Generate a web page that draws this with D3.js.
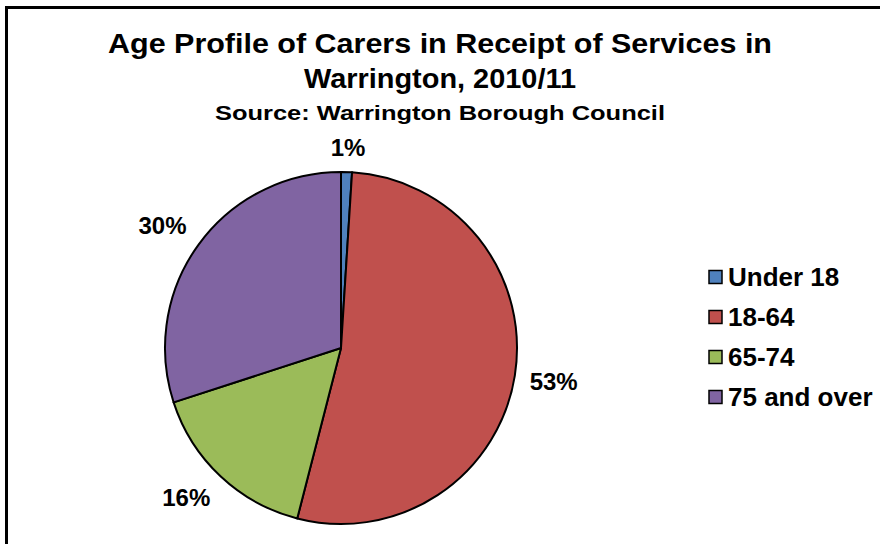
<!DOCTYPE html>
<html>
<head>
<meta charset="utf-8">
<script src="https://cdn.jsdelivr.net/npm/d3@7"></script>
<style>
  html, body { margin: 0; padding: 0; background: #fff; }
  text { font-family: "Liberation Sans", Arial, sans-serif; fill: #000; }
</style>
</head>
<body>
<div id="chart"></div>
<script>
// data
var categories = ['Under 18', '18-64', '65-74', '75 and over'];
var values = [1, 53, 16, 30];
var colors = ['#4F81BD', '#C0504D', '#9BBB59', '#8064A2'];
var titleLines = ['Age Profile of Carers in Receipt of Services in', 'Warrington, 2010/11'];
var subtitle = 'Source: Warrington Borough Council';

var attrs = {
  svgWidth: 880,
  svgHeight: 544,
  cx: 341,
  cy: 348,
  radius: 176,
  labelGap: 15,
  legendX: 709,
  legendY: 277,
  legendStep: 40
};

var svg = d3.select('#chart').append('svg')
  .attr('width', attrs.svgWidth)
  .attr('height', attrs.svgHeight);

// frame (top and left edges only visible)
svg.append('line').attr('x1', 5).attr('x2', 880).attr('y1', 7.5).attr('y2', 7.5)
  .attr('stroke', '#000').attr('stroke-width', 3);
svg.append('line').attr('x1', 6.5).attr('x2', 6.5).attr('y1', 6).attr('y2', 544)
  .attr('stroke', '#000').attr('stroke-width', 3);

// titles
var titleWidths = [664, 272];
var titleBase = [53, 88];
titleLines.forEach(function (t, i) {
  svg.append('text')
    .attr('x', 440).attr('y', titleBase[i])
    .attr('text-anchor', 'middle')
    .attr('font-size', 28).attr('font-weight', 'bold')
    .attr('textLength', titleWidths[i]).attr('lengthAdjust', 'spacingAndGlyphs')
    .text(t);
});
svg.append('text')
  .attr('x', 440).attr('y', 120)
  .attr('text-anchor', 'middle')
  .attr('font-size', 21).attr('font-weight', 'bold')
  .attr('textLength', 450).attr('lengthAdjust', 'spacingAndGlyphs')
  .text(subtitle);

// pie
var total = d3.sum(values);
var pie = d3.pie().sort(null).value(function (d) { return d; });
var arcs = pie(values);
var arc = d3.arc().innerRadius(0).outerRadius(attrs.radius);

var chart = svg.append('g')
  .attr('transform', 'translate(' + attrs.cx + ',' + attrs.cy + ')');

chart.selectAll('path.slice')
  .data(arcs)
  .enter().append('path')
  .attr('class', 'slice')
  .attr('d', arc)
  .attr('fill', function (d, i) { return colors[i]; })
  .attr('stroke', '#000')
  .attr('stroke-width', 2)
  .attr('stroke-linejoin', 'round');

// data labels: the box corner nearest the pie sits just outside the edge
var fmt = d3.format('.0%');
var labelH = 20;
var clamp = function (v) { return Math.max(-1, Math.min(1, v)); };
chart.selectAll('text.lbl')
  .data(arcs)
  .enter().append('text')
  .attr('class', 'lbl')
  .attr('font-size', 24)
  .attr('font-weight', 'bold')
  .attr('text-anchor', 'middle')
  .text(function (d) { return fmt(d.value / total); })
  .each(function (d) {
    var a = (d.startAngle + d.endAngle) / 2;
    var w = this.getComputedTextLength();
    var rr = attrs.radius + attrs.labelGap;
    var x = Math.sin(a) * rr + clamp(Math.sin(a) * 2) * w / 2;
    var y = -Math.cos(a) * rr - clamp(Math.cos(a) * 2) * labelH / 2;
    d3.select(this).attr('x', x).attr('y', y + 8.5);
  });

// legend
var legend = svg.append('g')
  .attr('transform', 'translate(' + attrs.legendX + ',' + attrs.legendY + ')');
var items = legend.selectAll('g.item')
  .data(categories)
  .enter().append('g')
  .attr('class', 'item')
  .attr('transform', function (d, i) { return 'translate(0,' + (i * attrs.legendStep) + ')'; });
items.append('rect')
  .attr('x', 0).attr('y', -6.5).attr('width', 13).attr('height', 13)
  .attr('fill', function (d, i) { return colors[i]; })
  .attr('stroke', '#000').attr('stroke-width', 1.5);
items.append('text')
  .attr('x', 19).attr('y', 9)
  .attr('font-size', 26).attr('font-weight', 'bold')
  .text(function (d) { return d; });
</script>
</body>
</html>
